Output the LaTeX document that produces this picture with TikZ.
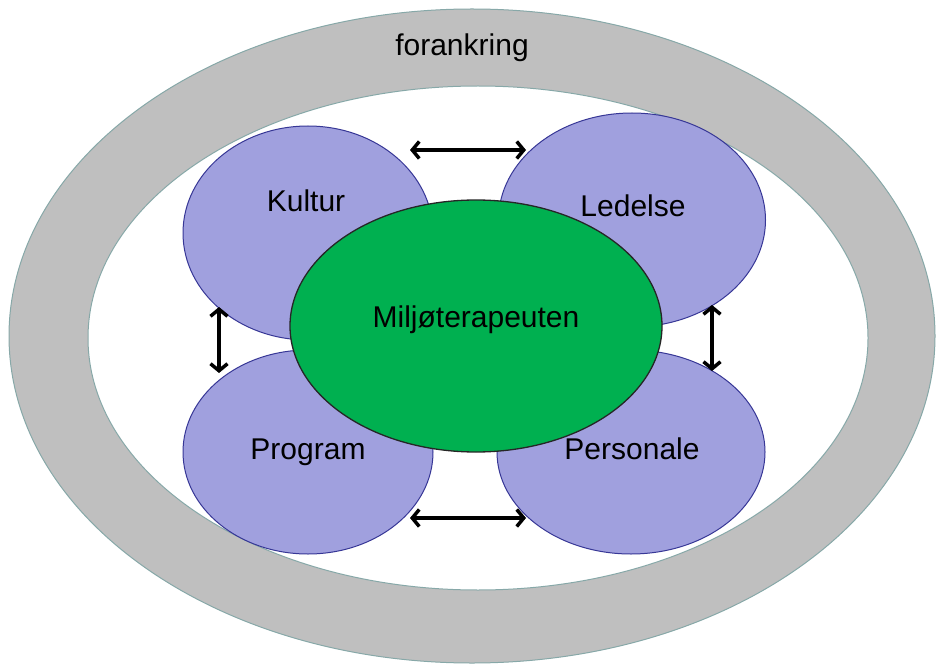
\documentclass[tikz,border=0pt]{standalone}
\usepackage{fontspec}
\setmainfont{Liberation Sans}
\usetikzlibrary{shapes.geometric,arrows.meta}
\definecolor{ringgray}{RGB}{191,191,191}
\definecolor{ringedge}{RGB}{135,168,168}
\definecolor{blobfill}{RGB}{160,160,222}
\definecolor{blobedge}{RGB}{55,55,150}
\definecolor{coregreen}{RGB}{0,176,80}
\begin{document}
\begin{tikzpicture}[x=1pt,y=-1pt,
  ringouter/.style={ellipse,inner sep=0pt,fill=ringgray,draw=ringedge,line width=1pt},
  ringinner/.style={ellipse,inner sep=0pt,fill=white,draw=ringedge,line width=1pt},
  blob/.style={ellipse,inner sep=0pt,fill=blobfill,draw=blobedge,line width=1pt},
  core/.style={ellipse,inner sep=0pt,fill=coregreen,draw=black!85,line width=1.3pt},
  lbl/.style={inner sep=0pt,font=\fontsize{30}{36}\selectfont,text=black},
  twoway/.style={{Straight Barb[length=7pt,width=17pt,line width=3.5pt]}-{Straight Barb[length=7pt,width=17pt,line width=3.5pt]},line width=3.5pt,black}]
\useasboundingbox (0,0) rectangle (939,668);
\node[ringouter,minimum width=926pt,minimum height=654pt] (outer) at (472,336) {};
\node[ringinner,minimum width=780pt,minimum height=504pt] (inner) at (478,338) {};
\node[lbl] (tforankring) at (462,48) {forankring};
% blue ellipses
\node[blob,minimum width=250pt,minimum height=214pt] (kultur) at (308,233) {};
\node[blob,minimum width=267pt,minimum height=214pt] (ledelse) at (632,220) {};
\node[blob,minimum width=250pt,minimum height=204pt] (program) at (308,452) {};
\node[blob,minimum width=268pt,minimum height=204pt] (personale) at (631,452) {};
% green core
\node[core,minimum width=372pt,minimum height=252pt] (core) at (476,326) {};
% labels
\node[lbl] (tkultur) at (306,201) {Kultur};
\node[lbl] (tledelse) at (633,206) {Ledelse};
\node[lbl] (tprogram) at (308,452) {Program};
\node[lbl] (tpersonale) at (632,449) {Personale};
\node[lbl] (tcore) at (476,320) {Miljøterapeuten};
% arrow end points
\coordinate (kt) at (410,150);
\coordinate (lt) at (526,150);
\coordinate (pb) at (410,518);
\coordinate (sb) at (526,518);
\coordinate (kb) at (219,307);
\coordinate (pt) at (219,373);
\coordinate (lb) at (712,305);
\coordinate (st) at (712,371);
\draw[twoway] (kt) -- (lt);
\draw[twoway] (pb) -- (sb);
\draw[twoway] (kb) -- (pt);
\draw[twoway] (lb) -- (st);
\end{tikzpicture}
\end{document}
